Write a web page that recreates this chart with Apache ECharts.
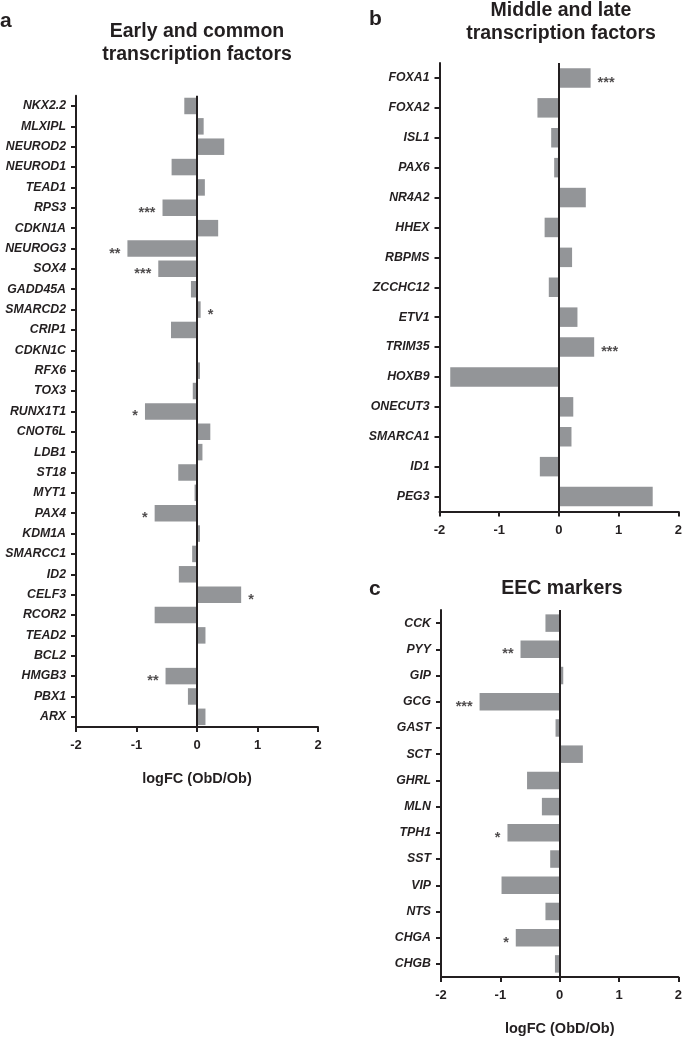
<!DOCTYPE html>
<html><head><meta charset="utf-8">
<script src="https://cdn.jsdelivr.net/npm/echarts@6/dist/echarts.min.js"></script>
<style>html,body{margin:0;padding:0;background:#fff}#c{width:685px;height:1037px}</style>
</head><body><div id="c"></div>
<script>
const catA = ['NKX2.2','MLXIPL','NEUROD2','NEUROD1','TEAD1','RPS3','CDKN1A','NEUROG3','SOX4','GADD45A','SMARCD2','CRIP1','CDKN1C','RFX6','TOX3','RUNX1T1','CNOT6L','LDB1','ST18','MYT1','PAX4','KDM1A','SMARCC1','ID2','CELF3','RCOR2','TEAD2','BCL2','HMGB3','PBX1','ARX'];
const valA = [-0.21,0.11,0.45,-0.42,0.13,-0.57,0.35,-1.15,-0.64,-0.10,0.06,-0.43,0,0.05,-0.07,-0.86,0.22,0.09,-0.31,-0.04,-0.70,0.05,-0.08,-0.30,0.73,-0.70,0.14,0,-0.52,-0.15,0.14];
const sigA = ['','','','','','***','','**','***','','*','','','','','*','','','','','*','','','','*','','','','**','',''];

const catB = ['FOXA1','FOXA2','ISL1','PAX6','NR4A2','HHEX','RBPMS','ZCCHC12','ETV1','TRIM35','HOXB9','ONECUT3','SMARCA1','ID1','PEG3'];
const valB = [0.53,-0.36,-0.13,-0.08,0.45,-0.24,0.22,-0.17,0.31,0.59,-1.82,0.24,0.21,-0.32,1.57];
const sigB = ['***','','','','','','','','','***','','','','',''];

const catC = ['CCK','PYY','GIP','GCG','GAST','SCT','GHRL','MLN','TPH1','SST','VIP','NTS','CHGA','CHGB'];
const valC = [-0.24,-0.66,0.06,-1.35,-0.07,0.39,-0.55,-0.30,-0.88,-0.16,-0.98,-0.24,-0.74,-0.08];
const sigC = ['','**','','***','','','','','*','','','','*',''];

const xTicks = [-2,-1,0,1,2];
const xTitle = 'logFC (ObD/Ob)';

const INK = '#231f20', BAR = '#939598', FF = '"Liberation Sans", Arial, sans-serif';
const panels = [
  {cats: catA, vals: valA, sig: sigA, grid: {left: 76, width: 242, top: 95.8, height: 631.2}, bw: 16.5},
  {cats: catB, vals: valB, sig: sigB, grid: {left: 439.5, width: 242, top: 63, height: 448.5}, bw: 19.5},
  {cats: catC, vals: valC, sig: sigC, grid: {left: 441, width: 241.5, top: 610, height: 367.5}, bw: 17.5}
];
const grids = [], xAxes = [], yAxes = [], series = [];
panels.forEach((p, i) => {
  grids.push(Object.assign({containLabel: false}, p.grid));
  xAxes.push({
    type: 'value', gridIndex: i, min: xTicks[0], max: xTicks[xTicks.length-1], interval: 1,
    axisLine: {show: true, lineStyle: {color: INK, width: 2}},
    axisTick: {show: true, length: 5, lineStyle: {color: INK, width: 2}},
    axisLabel: {color: INK, fontWeight: 'bold', fontSize: 13, fontFamily: FF, margin: 12},
    splitLine: {show: false},
    name: i === 1 ? '' : xTitle, nameLocation: 'middle', nameGap: 44,
    nameTextStyle: {color: INK, fontWeight: 'bold', fontSize: 14.5, fontFamily: FF}
  });
  yAxes.push({
    type: 'category', gridIndex: i, data: p.cats, inverse: true,
    axisLine: {show: true, onZero: false, lineStyle: {color: INK, width: 2}},
    axisTick: {show: true, length: 5, alignWithLabel: true, lineStyle: {color: INK, width: 2}},
    axisLabel: {color: INK, fontWeight: 'bold', fontStyle: 'italic', fontSize: 12.3, fontFamily: FF, margin: 10},
    splitLine: {show: false}
  });
  series.push({
    type: 'bar', xAxisIndex: i, yAxisIndex: i, data: p.vals, barWidth: p.bw,
    itemStyle: {color: BAR},
    markLine: {silent: true, symbol: ['none','none'], label: {show: false},
      lineStyle: {color: INK, width: 2, type: 'solid'}, data: [{xAxis: 0}]}
  });
  const sd = [];
  p.vals.forEach((v, k) => {
    if (p.sig[k]) sd.push({value: [v, p.cats[k]], label: {position: v < 0 ? 'left' : 'right', formatter: p.sig[k]}});
  });
  series.push({
    type: 'scatter', xAxisIndex: i, yAxisIndex: i, data: sd, symbolSize: 0,
    itemStyle: {color: 'rgba(0,0,0,0)'},
    label: {show: true, distance: 7, offset: [0, 5], color: INK, fontSize: 14.5, fontWeight: 'bold', fontFamily: FF}
  });
});
const tStyle = {fill: INK, font: 'bold 19.5px ' + FF, textAlign: 'center', textVerticalAlign: 'middle', lineHeight: 23};
const lStyle = {fill: INK, font: 'bold 21px ' + FF, textAlign: 'left', textVerticalAlign: 'middle'};
const chart = echarts.init(document.getElementById('c'));
chart.setOption({
  animation: false,
  grid: grids, xAxis: xAxes, yAxis: yAxes, series: series,
  graphic: [
    {type: 'text', x: 197, y: 43, style: Object.assign({text: 'Early and common\ntranscription factors'}, tStyle)},
    {type: 'text', x: 561, y: 22, style: Object.assign({text: 'Middle and late\ntranscription factors'}, tStyle)},
    {type: 'text', x: 562, y: 589, style: Object.assign({text: 'EEC markers'}, tStyle)},
    {type: 'text', x: 0, y: 21, style: Object.assign({text: 'a'}, lStyle)},
    {type: 'text', x: 369, y: 19, style: Object.assign({text: 'b'}, lStyle)},
    {type: 'text', x: 369, y: 589, style: Object.assign({text: 'c'}, lStyle)}
  ]
});
</script></body></html>
